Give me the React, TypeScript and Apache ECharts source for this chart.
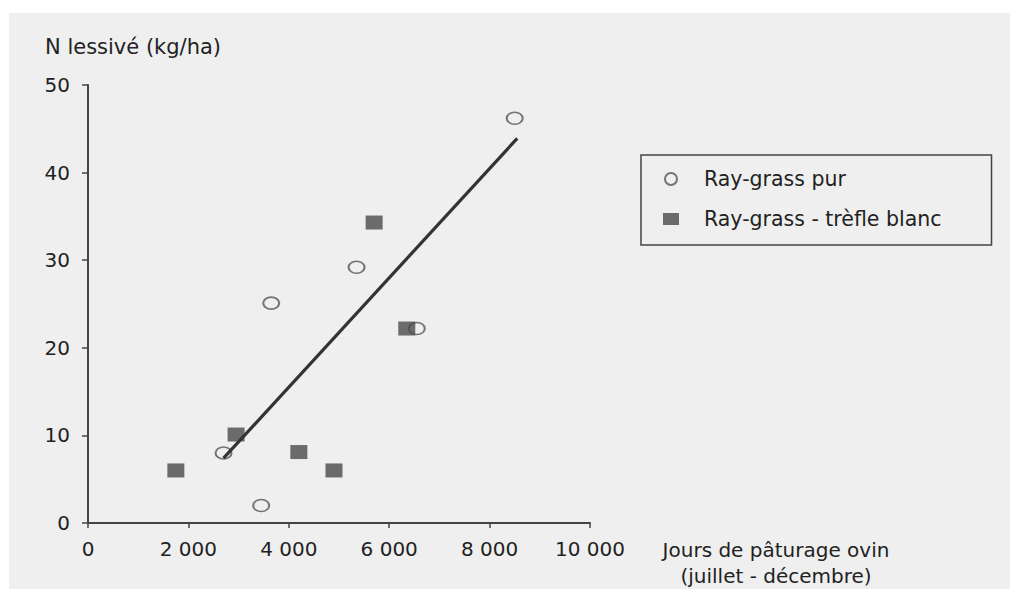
import React, { useEffect, useRef } from "react";
import * as echarts from "echarts";

// Ray-grass pur (open circles): [jours de pâturage, N lessivé]
const pureX = [8500, 5350, 3650, 6550, 2700, 3450];
const pureY = [46.2, 29.2, 25.1, 22.2, 8.0, 2.0];
// Ray-grass - trèfle blanc (filled squares)
const cloverX = [1750, 2950, 4200, 4900, 5700, 6350];
const cloverY = [6.0, 10.1, 8.1, 6.0, 34.3, 22.2];
// Regression line end points
const fitX = [2700, 8550];
const fitY = [7.4, 43.9];

const seriesNames = ["Ray-grass pur", "Ray-grass - trèfle blanc"];
const yTitle = "N lessivé (kg/ha)";
const xTitle = "Jours de pâturage ovin\n(juillet - décembre)";

const FONT = "DejaVu Sans";
const INK = "#222222";
const BG = "#efefef";

const ellipse =
  "path://M100,50 C100,77.6 77.6,100 50,100 C22.4,100 0,77.6 0,50 C0,22.4 22.4,0 50,0 C77.6,0 100,22.4 100,50 Z";

const fmt = (v: number) =>
  String(v).replace(/\B(?=(\d{3})+(?!\d))/g, " ");

export default function App() {
  const ref = useRef<HTMLDivElement>(null);
  useEffect(() => {
    if (!ref.current) return;
    const chart = echarts.init(ref.current, undefined, { renderer: "svg" });
    chart.setOption({
      animation: false,
      backgroundColor: "#ffffff",
      textStyle: { fontFamily: FONT },
      graphic: [
        {
          type: "rect",
          z: -10,
          silent: true,
          shape: { x: 9, y: 13, width: 1001, height: 576 },
          style: { fill: BG },
        },
        {
          type: "text",
          left: 45,
          top: 36,
          style: {
            text: yTitle,
            font: `21px '${FONT}'`,
            fill: INK,
          },
        },
        {
          type: "text",
          x: 776,
          y: 537,
          style: {
            text: xTitle,
            font: `20px '${FONT}'`,
            fill: INK,
            textAlign: "center",
            lineHeight: 26,
          },
        },
      ],
      grid: { left: 88, top: 85, width: 502, height: 438, containLabel: false },
      legend: {
        data: seriesNames,
        orient: "vertical",
        left: 641,
        top: 155,
        padding: [12, 50, 14, 22],
        itemWidth: 16,
        itemHeight: 12,
        itemGap: 16,
        borderColor: "#444",
        borderWidth: 1.5,
        backgroundColor: BG,
        textStyle: {
          fontFamily: FONT,
          fontSize: 20.5,
          color: INK,
          lineHeight: 24,
          padding: [0, 0, 0, 20],
        },
      },
      xAxis: {
        type: "value",
        min: 0,
        max: 10000,
        interval: 2000,
        splitLine: { show: false },
        axisLine: { lineStyle: { color: "#444", width: 2 } },
        axisTick: { show: true, length: 5, lineStyle: { color: "#444", width: 1.5 } },
        axisLabel: {
          color: INK,
          fontFamily: FONT,
          fontSize: 20,
          margin: 16,
          formatter: (v: number) => fmt(v),
        },
      },
      yAxis: {
        type: "value",
        min: 0,
        max: 50,
        interval: 10,
        splitLine: { show: false },
        axisLine: { show: true, lineStyle: { color: "#444", width: 2 } },
        axisTick: { show: true, length: 6, lineStyle: { color: "#444", width: 1.5 } },
        axisLabel: {
          color: INK,
          fontFamily: FONT,
          fontSize: 20,
          margin: 18,
        },
      },
      series: [
        {
          name: seriesNames[0],
          type: "scatter",
          symbol: ellipse,
          symbolSize: [16, 12],
          itemStyle: { color: BG, borderColor: "#555", borderWidth: 1.8 },
          data: pureX.map((x, i) => [x, pureY[i]]),
          z: 2,
        },
        {
          name: seriesNames[1],
          type: "scatter",
          symbol: "rect",
          symbolSize: [17, 14],
          itemStyle: { color: "#4a4a4a" },
          data: cloverX.map((x, i) => [x, cloverY[i]]),
          z: 3,
        },
        {
          name: "régression",
          type: "line",
          symbol: "none",
          lineStyle: { color: "#333333", width: 3.2 },
          data: fitX.map((x, i) => [x, fitY[i]]),
          z: 4,
        },
      ],
    });
    return () => chart.dispose();
  }, []);
  return (
    <div
      ref={ref}
      style={{ position: "absolute", left: 0, top: 0, width: 1010, height: 589 }}
    />
  );
}
